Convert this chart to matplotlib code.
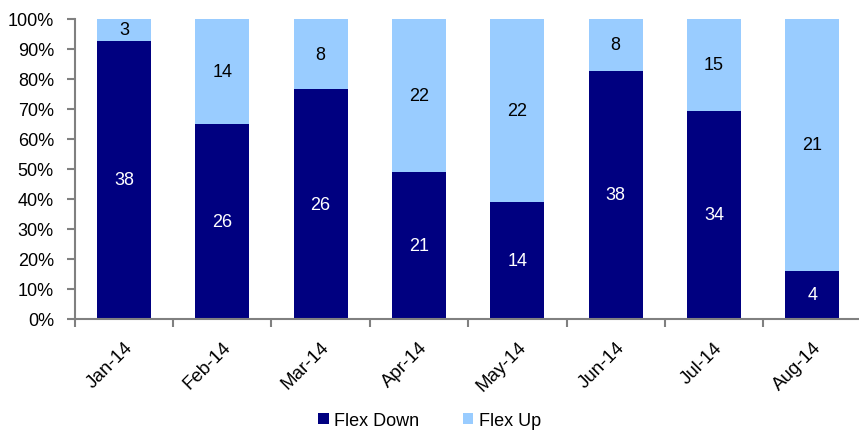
import numpy as np
import matplotlib.pyplot as plt
from matplotlib.ticker import FixedLocator, PercentFormatter

plt.rcParams["font.family"] = ["Liberation Sans", "DejaVu Sans"]
plt.rcParams["font.size"] = 12

months = ["Jan-14", "Feb-14", "Mar-14", "Apr-14", "May-14", "Jun-14", "Jul-14", "Aug-14"]
flex_down = [38, 26, 26, 21, 14, 38, 34, 4]
flex_up = [3, 14, 8, 22, 22, 8, 15, 21]

DOWN_C = "#000080"
UP_C = "#99ccff"
AXIS_C = "#808080"

down = np.array(flex_down, dtype=float)
up = np.array(flex_up, dtype=float)
tot = down + up
down_pct = down / tot * 100
up_pct = up / tot * 100
x = np.arange(len(months))

fig = plt.figure(figsize=(8.59, 4.31), dpi=100)
ax = fig.add_axes([0.087, 0.258, 0.916, 0.696])

w = 0.55
b1 = ax.bar(x, down_pct, w, color=DOWN_C, label="Flex Down")
b2 = ax.bar(x, up_pct, w, bottom=down_pct, color=UP_C, label="Flex Up")

for i in range(len(x)):
    ax.text(x[i], down_pct[i] / 2, f"{flex_down[i]}", ha="center", va="center",
            color="white", fontsize=13)
    ax.text(x[i], down_pct[i] + up_pct[i] / 2, f"{flex_up[i]}", ha="center", va="center",
            color="black", fontsize=13)

ax.set_xlim(-0.5, len(x) - 0.5)
ax.set_ylim(0, 100)
ax.set_yticks(np.arange(0, 101, 10))
ax.yaxis.set_major_formatter(PercentFormatter(decimals=0))

# category labels at bar centres, tick marks at category boundaries
ax.set_xticks(x)
ax.set_xticklabels(months, rotation=45, ha="right", rotation_mode="anchor", fontsize=13.5)
ax.tick_params(axis="x", which="major", length=0, pad=14)
ax.xaxis.set_minor_locator(FixedLocator(np.arange(-0.5, len(x), 1.0)))
ax.tick_params(axis="x", which="minor", length=6, width=1.5, color=AXIS_C, direction="out")
ax.tick_params(axis="y", length=6, width=1.5, color=AXIS_C, direction="out", pad=9,
               labelsize=13)

for s in ["top", "right"]:
    ax.spines[s].set_visible(False)
for s in ["left", "bottom"]:
    ax.spines[s].set_color(AXIS_C)
    ax.spines[s].set_linewidth(1.5)

fig.legend(handles=[b1, b2], loc="lower center", bbox_to_anchor=(0.5, -0.035), ncol=2,
           frameon=False, handlelength=0.6, handleheight=0.6, handletextpad=0.3,
           columnspacing=2.4, fontsize=13)

fig.savefig("out.png", dpi=100)
